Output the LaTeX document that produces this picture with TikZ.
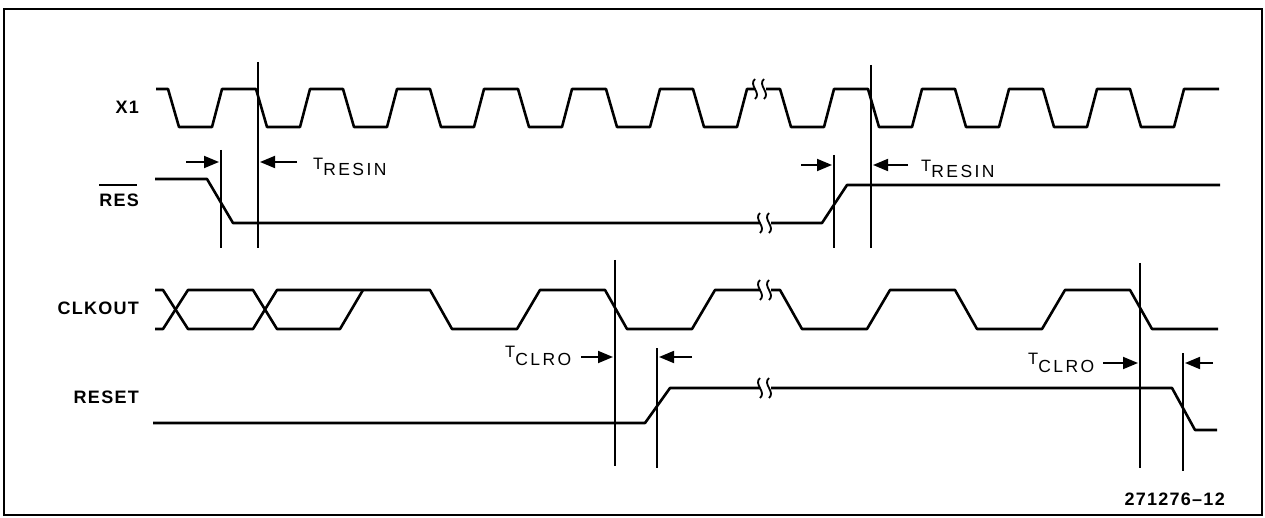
\documentclass[tikz,border=0pt]{standalone}
\usepackage{fontspec}
\setmainfont{Liberation Sans}
\newfontfamily\subfont[LetterSpace=14]{Liberation Sans}
\usetikzlibrary{arrows.meta}
\tikzstyle{signal} = [line width=2.6pt, line join=round]
\tikzstyle{marker} = [line width=1.3pt]
\tikzstyle{arrow} = [line width=1.8pt, -{Triangle[length=15pt,width=12pt]}]
\tikzstyle{sig} = [anchor=base east, inner sep=0pt, font=\fontsize{18}{20}\selectfont\bfseries\addfontfeature{LetterSpace=7}]
\tikzstyle{tlabel} = [anchor=base west, inner sep=0pt, font=\fontsize{16.5}{18}\selectfont]
\tikzstyle{brk} = [line width=1.8pt]

\begin{document}
\begin{tikzpicture}[x=1pt,y=-1pt]
\useasboundingbox (0,0) rectangle (1265,518);
\draw[line width=2pt] (4,9) rectangle (1262,515);

\node (x1lbl) [sig] at (139,114) {X1};
\node (reslbl) [sig] at (139,207) {RES};
\draw[line width=1.6pt] ([yshift=9pt]reslbl.north west) -- ([yshift=9pt,xshift=-2pt]reslbl.north east);
\node (clklbl) [sig] at (139,315) {CLKOUT};
\node (rstlbl) [sig] at (139,403) {RESET};
\node (fignum) [sig] at (1225,505) {271276--12};

\draw[signal] (156,89) -- (168,89) -- (179,127) -- (212,127) -- (222,89)
  -- (256,89) -- (267,127) -- (300,127) -- (310,89)
  -- (343,89) -- (354,127) -- (387,127) -- (397,89)
  -- (430,89) -- (441,127) -- (474,127) -- (484,89)
  -- (518,89) -- (529,127) -- (562,127) -- (572,89)
  -- (606,89) -- (617,127) -- (650,127) -- (660,89)
  -- (693,89) -- (704,127) -- (737,127) -- (747,89)
  -- (780,89) -- (791,127) -- (824,127) -- (834,89)
  -- (868,89) -- (879,127) -- (912,127) -- (922,89)
  -- (955,89) -- (966,127) -- (999,127) -- (1009,89)
  -- (1043,89) -- (1054,127) -- (1087,127) -- (1097,89)
  -- (1130,89) -- (1141,127) -- (1174,127) -- (1184,89) -- (1219,89);
\draw[signal] (155,179) -- (207,179) -- (233,223) -- (822,223) -- (847,185) -- (1220,185);
\draw[signal] (155,290) -- (163,290) -- (188,329) -- (253,329) -- (277,290)
  -- (430,290) -- (452,329) -- (517,329) -- (540,290)
  -- (605,290) -- (627,329) -- (692,329) -- (715,290)
  -- (780,290) -- (802,329) -- (867,329) -- (890,290)
  -- (955,290) -- (977,329) -- (1042,329) -- (1065,290)
  -- (1130,290) -- (1152,329) -- (1218,329);
\draw[signal] (155,329) -- (163,329) -- (188,290) -- (253,290) -- (277,329)
  -- (340,329) -- (363,290);
\draw[signal] (153,423) -- (645,423) -- (670,388) -- (1172,388) -- (1195,430) -- (1217,430);

\fill[white] (755,78) rectangle (766,100);
\draw[brk] (755,99) .. controls (762,93) and (748,85) .. (755,79);
\draw[brk] (764,99) .. controls (771,93) and (757,85) .. (764,79);
\fill[white] (760,212) rectangle (771,234);
\draw[brk] (760,233) .. controls (767,227) and (753,219) .. (760,213);
\draw[brk] (769,233) .. controls (776,227) and (762,219) .. (769,213);
\fill[white] (760,279) rectangle (771,301);
\draw[brk] (760,300) .. controls (767,294) and (753,286) .. (760,280);
\draw[brk] (769,300) .. controls (776,294) and (762,286) .. (769,280);
\fill[white] (760,377) rectangle (771,399);
\draw[brk] (760,398) .. controls (767,392) and (753,384) .. (760,378);
\draw[brk] (769,398) .. controls (776,392) and (762,384) .. (769,378);

\coordinate (m1a) at (221,150);
\coordinate (m1b) at (221,248);
\coordinate (m2a) at (258,62);
\coordinate (m2b) at (258,248);
\coordinate (m3a) at (834,155);
\coordinate (m3b) at (834,248);
\coordinate (m4a) at (871,65);
\coordinate (m4b) at (871,248);
\coordinate (m5a) at (615,260);
\coordinate (m5b) at (615,466);
\coordinate (m6a) at (657,348);
\coordinate (m6b) at (657,468);
\coordinate (m7a) at (1140,263);
\coordinate (m7b) at (1140,468);
\coordinate (m8a) at (1183,353);
\coordinate (m8b) at (1183,471);
\draw[marker] (m1a) -- (m1b);
\draw[marker] (m2a) -- (m2b);
\draw[marker] (m3a) -- (m3b);
\draw[marker] (m4a) -- (m4b);
\draw[marker] (m5a) -- (m5b);
\draw[marker] (m6a) -- (m6b);
\draw[marker] (m7a) -- (m7b);
\draw[marker] (m8a) -- (m8b);

\coordinate (a1s) at (186,162);
\coordinate (a1e) at (219,162);
\coordinate (a2s) at (297,162);
\coordinate (a2e) at (260,162);
\coordinate (a3s) at (801,165);
\coordinate (a3e) at (832,165);
\coordinate (a4s) at (908,165);
\coordinate (a4e) at (873,165);
\coordinate (a5s) at (581,357);
\coordinate (a5e) at (613,357);
\coordinate (a6s) at (692,357);
\coordinate (a6e) at (659,357);
\coordinate (a7s) at (1103,363);
\coordinate (a7e) at (1138,363);
\coordinate (a8s) at (1213,363);
\coordinate (a8e) at (1185,363);
\draw[arrow] (a1s) -- (a1e);
\draw[arrow] (a2s) -- (a2e);
\draw[arrow] (a3s) -- (a3e);
\draw[arrow] (a4s) -- (a4e);
\draw[arrow] (a5s) -- (a5e);
\draw[arrow] (a6s) -- (a6e);
\draw[arrow] (a7s) -- (a7e);
\draw[arrow] (a8s) -- (a8e);

\node (tres1) [tlabel] at (313,170) {T\raisebox{-6pt}{\fontsize{17.5}{18}\subfont RESIN}};
\node (tres2) [tlabel] at (921,172) {T\raisebox{-6pt}{\fontsize{17.5}{18}\subfont RESIN}};
\node (tclr1) [tlabel] at (505,357) {T\raisebox{-8pt}{\fontsize{17.5}{18}\subfont CLRO}};
\node (tclr2) [tlabel] at (1028,364) {T\raisebox{-8pt}{\fontsize{17.5}{18}\subfont CLRO}};
\end{tikzpicture}
\end{document}
